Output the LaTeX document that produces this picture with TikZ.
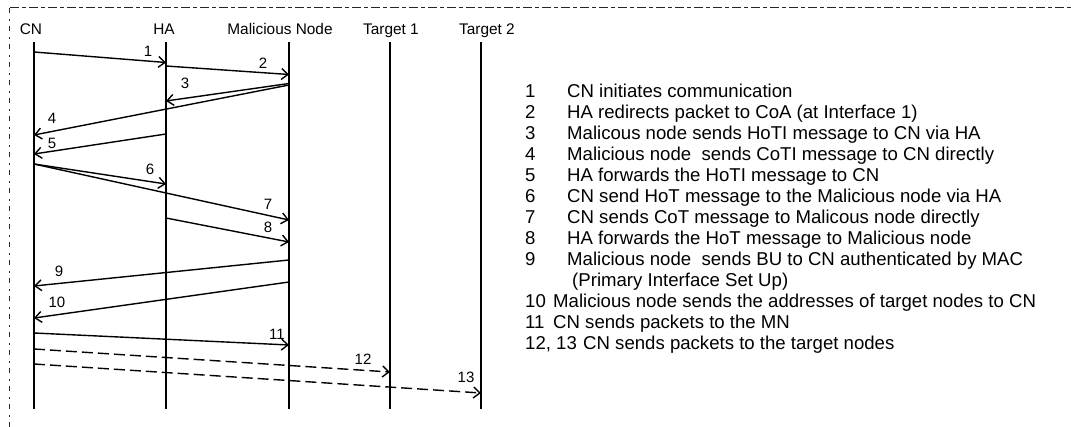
\documentclass[tikz,border=0pt]{standalone}
\usepackage{fontspec}
\setmainfont{Liberation Sans}
\usetikzlibrary{arrows.meta}
\begin{document}
\begin{tikzpicture}[x=1pt,y=-1pt,
  life/.style={line width=1.7pt},
  msg/.style={line width=1.4pt,-{Straight Barb[length=6.5pt,width=11pt,line width=1.4pt]}},
  dmsg/.style={msg,dash pattern=on 11pt off 5pt},
  head/.style={font=\fontsize{15.4}{18}\selectfont,anchor=base,inner sep=0pt},
  lbl/.style={font=\fontsize{15}{18}\selectfont,anchor=base,inner sep=0pt},
  leg/.style={font=\fontsize{18.6}{22}\selectfont,anchor=base west,inner sep=0pt},
  edge/.style={line width=0.8pt,black!85}
]
\useasboundingbox (0,0) rectangle (1071,427);

% frame remains (top and left)
\draw[edge,dash pattern=on 9pt off 3pt on 4pt off 3pt] (10,7.5) -- (1071,7.5);
\draw[edge,dash pattern=on 5pt off 6pt on 2pt off 5pt] (9,8) -- (9,427);

% column heads
\node[head] (hCN) at (31,35) {CN};
\node[head] (hHA) at (164,35) {HA};
\node[head] (hMN) at (280,35) {Malicious Node};
\node[head] (hT1) at (391,35) {Target 1};
\node[head] (hT2) at (487,35) {Target 2};

% lifelines
\foreach \n/\x in {cn/34,ha/166,mn/289,ta/390,tb/481}{
  \coordinate (\n T) at (\x,42);
  \coordinate (\n B) at (\x,409);
  \draw[life] (\n T) -- (\n B);
}

% message end points
\coordinate (a1) at (34,52);   \coordinate (b1) at (166,62.5);
\coordinate (a2) at (166,66);  \coordinate (b2) at (289,74.5);
\coordinate (a3) at (289,83.5);\coordinate (b3) at (166,101);
\coordinate (a4) at (289,85);  \coordinate (b4) at (34,135);
\coordinate (a5) at (166,134); \coordinate (b5) at (34,154);
\coordinate (a6) at (34,164);  \coordinate (b6) at (166,184);
\coordinate (a7) at (34,164);  \coordinate (b7) at (289,220);
\coordinate (a8) at (166,218); \coordinate (b8) at (289,242);
\coordinate (a9) at (289,260); \coordinate (b9) at (34,286);
\coordinate (a10) at (289,282);\coordinate (b10) at (34,318);
\coordinate (a11) at (34,333); \coordinate (b11) at (289,345);
\coordinate (a12) at (34,349); \coordinate (b12) at (390,372);
\coordinate (a13) at (34,364); \coordinate (b13) at (481,393);

% messages
\foreach \i in {1,...,11}{ \draw[msg] (a\i) -- (b\i); }
\draw[dmsg] (a12) -- (b12);
\draw[dmsg] (a13) -- (b13);

% message numbers
\node[lbl] (l1) at (148,56.8) {1};
\node[lbl] (l2) at (263,68.9) {2};
\node[lbl] (l3) at (185,88.8) {3};
\node[lbl] (l4) at (52,124) {4};
\node[lbl] (l5) at (52,149) {5};
\node[lbl] (l6) at (150,174.8) {6};
\node[lbl] (l7) at (268,210) {7};
\node[lbl] (l8) at (268,232.6) {8};
\node[lbl] (l9) at (59,277) {9};
\node[lbl] (l10) at (57,308) {10};
\node[lbl] (l11) at (277,340) {11};
\node[lbl] (l12) at (363,365) {12};
\node[lbl] (l13) at (466,383) {13};

% legend
\foreach \k/\t [count=\r from 0] in {1/CN initiates communication,
  2/HA redirects packet to CoA (at Interface 1),
  3/Malicous node sends HoTI message to CN via HA,
  4/Malicious node\ \ sends CoTI message to CN directly,
  5/HA forwards the HoTI message to CN,
  6/CN send HoT message to the Malicious node via HA,
  7/CN sends CoT message to Malicous node directly,
  8/HA forwards the HoT message to Malicious node,
  9/Malicious node\ \ sends BU to CN authenticated by MAC}{
  \node[leg] (n\k) at (525,{97.7+21*\r}) {\k};
  \node[leg] (t\k) at (567,{97.7+21*\r}) {\t};
}
\node[leg] (t9b) at (572,{97.7+21*9}) {(Primary Interface Set Up)};
\node[leg] (n10) at (525,{97.7+21*10}) {10};
\node[leg] (t10) at (553,{97.7+21*10}) {Malicious node sends the addresses of target nodes to CN};
\node[leg] (n11) at (525,{97.7+21*11}) {11};
\node[leg] (t11) at (553,{97.7+21*11}) {CN sends packets to the MN};
\node[leg] (n12) at (525,{97.7+21*12}) {12, 13};
\node[leg] (t12) at (583,{97.7+21*12}) {CN sends packets to the target nodes};
\end{tikzpicture}
\end{document}
